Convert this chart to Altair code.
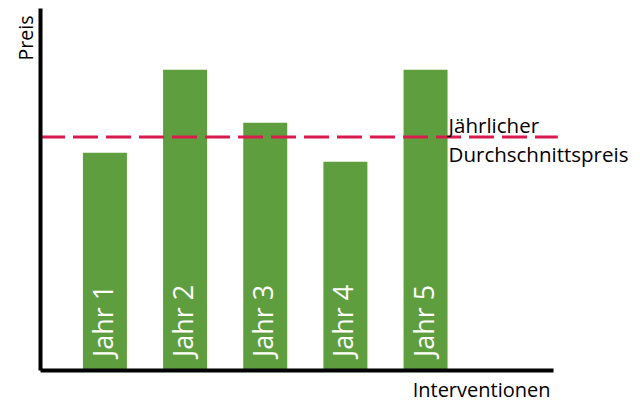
import altair as alt
import pandas as pd

# Prices per year and the yearly average price
years = [1, 2, 3, 4, 5]
year_labels = ["Jahr 1", "Jahr 2", "Jahr 3", "Jahr 4", "Jahr 5"]
prices = [72, 99.5, 82, 69, 99.5]
average_price = 77.2
average_lines = ["Jährlicher", "Durchschnittspreis"]
# horizontal extent of the average line, in x-scale units
average_span = [0.19, 6.65]

FONT = "Open Sans"
GREEN = "#5e9e3f"
CRIMSON = "#d91a4f"

bars_df = pd.DataFrame({"year": years, "label": year_labels, "price": prices})
avg_df = pd.DataFrame({
    "avg": [average_price],
    "x_start": [average_span[0]],
    "x_end": [average_span[1]],
})
avg_label_df = pd.DataFrame({
    "year": [years[-1]] * 2,
    "avg": [average_price] * 2,
    "text": average_lines,
    "line": [0, 1],
})

x_scale = alt.Scale(domain=[0.19, 6.59], nice=False, zero=False, padding=0)
y_scale = alt.Scale(domain=[0, 120], nice=False)

x_axis = alt.Axis(
    title="Interventionen", labels=False, ticks=False, grid=False,
    domainColor="black", domainWidth=4, zindex=1,
    titleFont=FONT, titleFontSize=20, titleFontWeight="normal", titleColor="black",
    titleAnchor="end", titleAlign="right", titleBaseline="alphabetic",
    titleX=510, titleY=26,
)
y_axis = alt.Axis(
    title="Preis", labels=False, ticks=False, grid=False,
    domainColor="black", domainWidth=4, zindex=1,
    titleFont=FONT, titleFontSize=19.5, titleFontWeight="normal", titleColor="black",
    titleAngle=270, titleAlign="right", titleBaseline="alphabetic",
    titleX=-8, titleY=7,
)

bars = alt.Chart(bars_df).mark_bar(color=GREEN, width=44).encode(
    x=alt.X("year:Q", scale=x_scale, axis=x_axis),
    y=alt.Y("price:Q", scale=y_scale, axis=y_axis),
)

bar_text = alt.Chart(bars_df).mark_text(
    angle=270, align="left", baseline="middle", dx=13,
    font=FONT, fontSize=27, color="white",
).encode(
    x=alt.X("year:Q", scale=x_scale),
    y=alt.datum(0),
    text="label:N",
)

avg_rule = alt.Chart(avg_df).mark_rule(
    color=CRIMSON, strokeWidth=3, strokeDash=[25, 8], clip=False,
).encode(
    x=alt.X("x_start:Q", scale=x_scale),
    x2="x_end:Q",
    y=alt.Y("avg:Q", scale=y_scale),
)

avg_top = alt.Chart(avg_label_df).transform_filter("datum.line == 0").mark_text(
    align="left", baseline="alphabetic", dx=23, dy=-4,
    font=FONT, fontSize=20.5, color="black",
).encode(
    x=alt.X("year:Q", scale=x_scale),
    y=alt.Y("avg:Q", scale=y_scale),
    text="text:N",
)
avg_bottom = alt.Chart(avg_label_df).transform_filter("datum.line == 1").mark_text(
    align="left", baseline="alphabetic", dx=23, dy=25,
    font=FONT, fontSize=20.5, color="black",
).encode(
    x=alt.X("year:Q", scale=x_scale),
    y=alt.Y("avg:Q", scale=y_scale),
    text="text:N",
)

chart = alt.layer(bars, bar_text, avg_rule, avg_top, avg_bottom).properties(
    width=513,
    height=362,
    autosize=alt.AutoSizeParams(type="none"),
    padding={"left": 40, "top": 8, "right": 87, "bottom": 31},
    background="white",
).configure_view(stroke="transparent", strokeWidth=0)

chart.save("out.html", embed_options={"renderer": "svg", "actions": False})
